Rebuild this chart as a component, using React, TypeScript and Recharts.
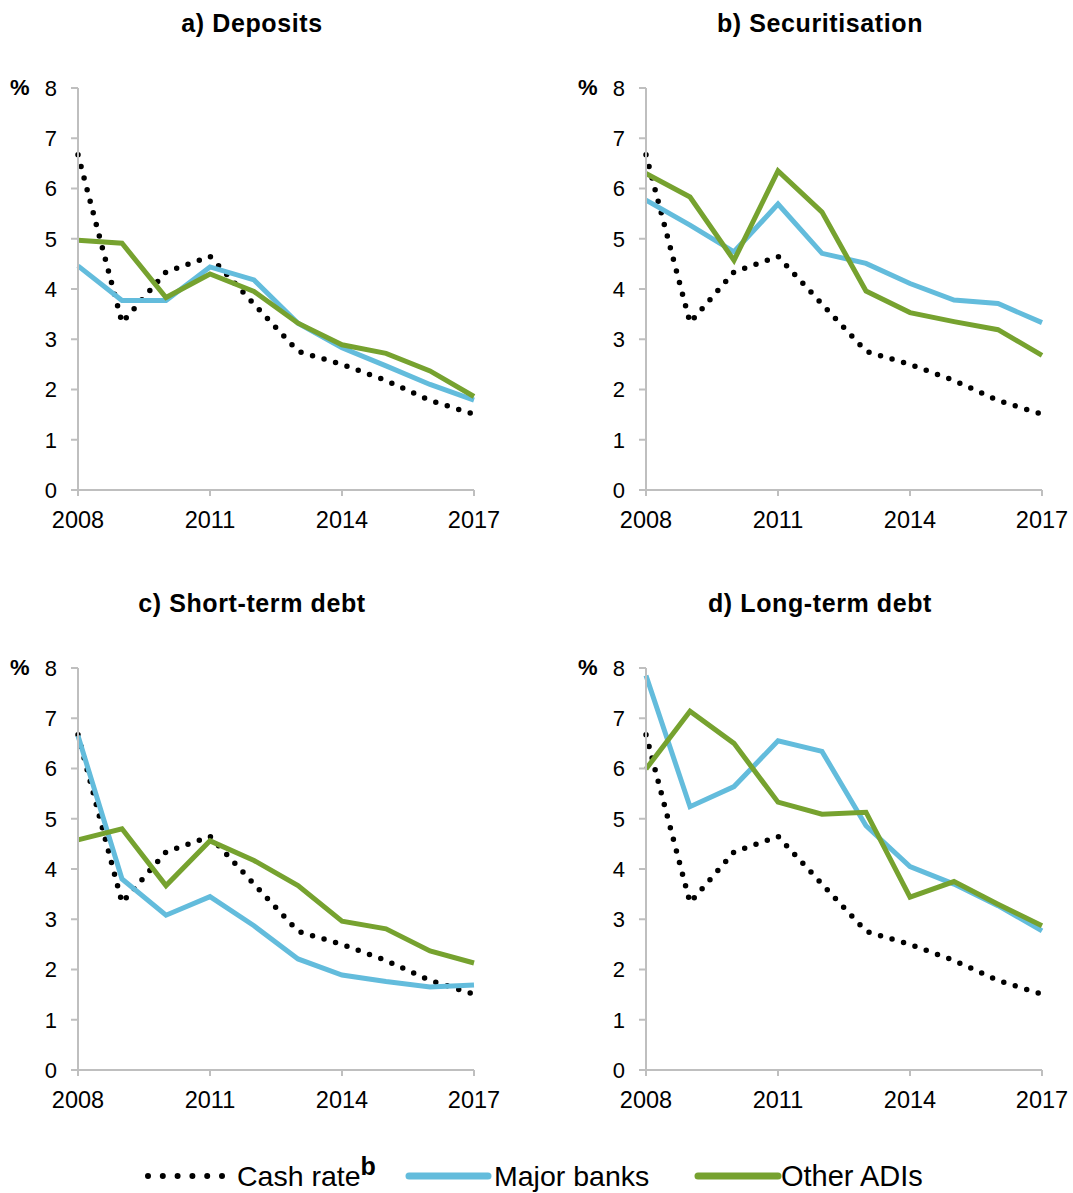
import React from 'react';
import { LineChart, Line, XAxis, YAxis } from 'recharts';

const years = [2008, 2009, 2010, 2011, 2012, 2013, 2014, 2015, 2016, 2017];
const cashRate = [6.67, 3.33, 4.34, 4.65, 3.7, 2.76, 2.5, 2.18, 1.78, 1.51];

const depositsMajor = [4.46, 3.77, 3.77, 4.44, 4.18, 3.32, 2.83, 2.47, 2.1, 1.79];
const depositsOther = [4.97, 4.91, 3.83, 4.3, 3.95, 3.32, 2.89, 2.72, 2.37, 1.86];

const securitisationMajor = [5.77, 5.27, 4.74, 5.69, 4.71, 4.51, 4.11, 3.78, 3.71, 3.33];
const securitisationOther = [6.3, 5.83, 4.57, 6.35, 5.53, 3.96, 3.53, 3.35, 3.19, 2.68];

const shortTermMajor = [6.65, 3.8, 3.08, 3.45, 2.87, 2.21, 1.89, 1.76, 1.65, 1.69];
const shortTermOther = [4.58, 4.8, 3.67, 4.56, 4.17, 3.67, 2.96, 2.81, 2.37, 2.13];

const longTermMajor = [7.85, 5.24, 5.64, 6.55, 6.34, 4.86, 4.05, 3.7, 3.27, 2.77];
const longTermOther = [5.99, 7.14, 6.5, 5.33, 5.09, 5.13, 3.44, 3.75, 3.3, 2.87];

const xTicks = [2008, 2011, 2014, 2017];
const yTicks = [0, 1, 2, 3, 4, 5, 6, 7, 8];

const panelTitles = ['a) Deposits', 'b) Securitisation', 'c) Short-term debt', 'd) Long-term debt'];
const legendLabels = ['Cash rate', 'Major banks', 'Other ADIs'];

const FONT = '"Liberation Sans", Arial, sans-serif';
const BLUE = '#63bcdc';
const GREEN = '#76a22f';
const AXIS = '#bfbfbf';

function buildData(major: number[], other: number[]) {
  return years.map((y, i) => ({ year: y, cash: cashRate[i], major: major[i], other: other[i] }));
}

function Panel({ title, major, other, left, top }: { title: string; major: number[]; other: number[]; left: number; top: number }) {
  const data = buildData(major, other);
  return (
    <>
      <div
        style={{
          position: 'absolute',
          left: left + 2,
          top: top - 51,
          width: 500,
          textAlign: 'center',
          fontFamily: FONT,
          fontWeight: 'bold',
          fontSize: 25,
          letterSpacing: 0.6,
          color: '#000',
          lineHeight: '28px',
        }}
      >
        {title}
      </div>
      <div
        style={{
          position: 'absolute',
          left: left + 10,
          top: top + 15,
          fontFamily: FONT,
          fontWeight: 'bold',
          fontSize: 22,
          lineHeight: '26px',
          color: '#000',
        }}
      >
        %
      </div>
      <div style={{ position: 'absolute', left, top }}>
        <LineChart width={500} height={480} data={data} margin={{ top: 28, right: 26, left: 0, bottom: 10 }}>
          <XAxis
            dataKey="year"
            type="number"
            domain={[2008, 2017]}
            ticks={xTicks}
            height={40}
            tickSize={6}
            tickMargin={15}
            axisLine={{ stroke: AXIS, strokeWidth: 2 }}
            tickLine={{ stroke: AXIS, strokeWidth: 2 }}
            tick={{ fill: '#000', fontSize: 23.5, fontFamily: FONT }}
            interval={0}
          />
          <YAxis
            type="number"
            domain={[0, 8]}
            ticks={yTicks}
            width={78}
            tickSize={7}
            tickMargin={14}
            axisLine={{ stroke: AXIS, strokeWidth: 2 }}
            tickLine={{ stroke: AXIS, strokeWidth: 2 }}
            tick={{ fill: '#000', fontSize: 22, fontFamily: FONT }}
            interval={0}
          />
          <Line
            type="linear"
            dataKey="cash"
            stroke="#000"
            strokeWidth={5.5}
            strokeDasharray="0 12"
            strokeLinecap="round"
            dot={false}
            isAnimationActive={false}
          />
          <Line type="linear" dataKey="major" stroke={BLUE} strokeWidth={5} dot={false} isAnimationActive={false} />
          <Line type="linear" dataKey="other" stroke={GREEN} strokeWidth={5} dot={false} isAnimationActive={false} />
        </LineChart>
      </div>
    </>
  );
}

function Legend() {
  const textStyle: React.CSSProperties = {
    position: 'absolute',
    top: 1158,
    fontFamily: FONT,
    lineHeight: '36px',
    color: '#000',
    whiteSpace: 'nowrap',
  };
  return (
    <>
      <svg style={{ position: 'absolute', left: 140, top: 1166 }} width={100} height={20}>
        <line x1={8} y1={10} x2={83} y2={10} stroke="#000" strokeWidth={6} strokeDasharray="0 14.8" strokeLinecap="round" />
      </svg>
      <div style={{ ...textStyle, left: 237, fontSize: 28.5 }}>
        {legendLabels[0]}
        <span style={{ fontWeight: 'bold', fontSize: 25, position: 'relative', top: -11 }}>b</span>
      </div>
      <svg style={{ position: 'absolute', left: 400, top: 1166 }} width={100} height={20}>
        <line x1={9} y1={10} x2={88} y2={10} stroke={BLUE} strokeWidth={7} strokeLinecap="round" />
      </svg>
      <div style={{ ...textStyle, left: 494, fontSize: 28.5 }}>{legendLabels[1]}</div>
      <svg style={{ position: 'absolute', left: 690, top: 1166 }} width={100} height={20}>
        <line x1={8} y1={10} x2={88} y2={10} stroke={GREEN} strokeWidth={7} strokeLinecap="round" />
      </svg>
      <div style={{ ...textStyle, left: 781, fontSize: 29 }}>{legendLabels[2]}</div>
    </>
  );
}

export default function App() {
  return (
    <div style={{ position: 'absolute', left: 0, top: 0, width: 1073, height: 1193, background: '#fff', overflow: 'hidden' }}>
      <Panel title={panelTitles[0]} major={depositsMajor} other={depositsOther} left={0} top={60} />
      <Panel title={panelTitles[1]} major={securitisationMajor} other={securitisationOther} left={568} top={60} />
      <Panel title={panelTitles[2]} major={shortTermMajor} other={shortTermOther} left={0} top={640} />
      <Panel title={panelTitles[3]} major={longTermMajor} other={longTermOther} left={568} top={640} />
      <Legend />
    </div>
  );
}
